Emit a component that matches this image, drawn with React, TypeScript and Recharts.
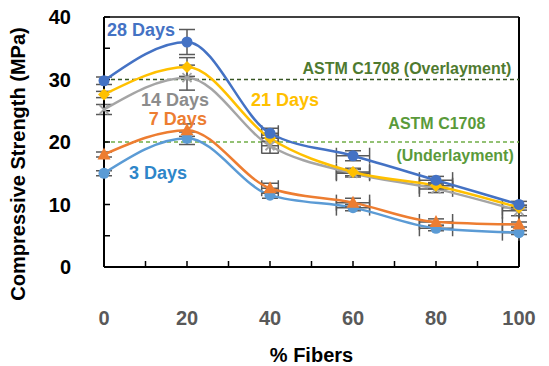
import React from 'react';
import { ComposedChart, Line, Scatter, XAxis, YAxis, ErrorBar, ReferenceLine, ReferenceDot, Label } from 'recharts';

const fibers = [0, 20, 40, 60, 80, 100];

const days28 = [29.8, 36.0, 21.4, 17.8, 13.9, 10.0];
const days21 = [27.6, 32.0, 20.6, 15.2, 13.0, 9.5];
const days14 = [25.2, 30.3, 19.4, 15.0, 12.5, 9.0];
const days7 = [18.0, 21.9, 12.6, 10.3, 7.2, 6.8];
const days3 = [15.0, 20.6, 11.5, 9.5, 6.2, 5.5];

const err28 = [0.6, 2.0, 0.8, 0.8, 0.6, 0.5];
const err21 = [0.5, 1.5, 0.5, 0.6, 0.5, 0.4];
const err14 = [0.8, 2.0, 1.2, 0.6, 0.6, 0.8];
const err7 = [0.4, 1.0, 0.8, 0.7, 0.5, 0.4];
const err3 = [0.4, 1.0, 0.5, 0.5, 0.4, 0.3];

// horizontal errors; the bars at 100 are cut by the plot border in the original
const errX28 = [null, null, 2, 4, 4, null];
const errX21 = [null, null, null, 4, 4, [4, 0]];
const errX14 = [null, null, 2, 4, 4, [4, 0]];
const errX7 = [null, null, 2, 4, 4, [4, 0]];
const errX3 = [null, null, null, 4, 4, [4, 0]];

const xTicks = [0, 10, 20, 30, 40, 50, 60, 70, 80, 90, 100];
const yTicks = [0, 5, 10, 15, 20, 25, 30, 35, 40];

const data = fibers.map((f, i) => ({
  fiber: f,
  d28: days28[i], e28: err28[i], x28: errX28[i],
  d21: days21[i], e21: err21[i], x21: errX21[i],
  d14: days14[i], e14: err14[i], x14: errX14[i],
  d7: days7[i], e7: err7[i], x7: errX7[i],
  d3: days3[i], e3: err3[i], x3: errX3[i],
}));

const FONT = '"Liberation Sans", Arial, sans-serif';
const ERR = '#595959';

const circleDot = (color: string, r: number) => (p: any) => (
  <circle key={p.index} cx={p.cx} cy={p.cy} r={r} fill={color} stroke="none" />
);
const diamondDot = (color: string) => (p: any) => (
  <path key={p.index} d={`M${p.cx},${p.cy - 6}L${p.cx + 6},${p.cy}L${p.cx},${p.cy + 6}L${p.cx - 6},${p.cy}Z`} fill={color} />
);
const crossDot = (color: string) => (p: any) => (
  <path key={p.index} d={`M${p.cx - 4.5},${p.cy - 4.5}L${p.cx + 4.5},${p.cy + 4.5}M${p.cx + 4.5},${p.cy - 4.5}L${p.cx - 4.5},${p.cy + 4.5}`} stroke={color} strokeWidth={1.8} />
);
const triangleDot = (color: string) => (p: any) => (
  <path key={p.index} d={`M${p.cx},${p.cy - 7}L${p.cx + 6.5},${p.cy + 5}L${p.cx - 6.5},${p.cy + 5}Z`} fill={color} />
);
const noShape = () => <g />;

const textLabel = (text: string, color: string, size = 16) => (props: any) => {
  const { viewBox } = props;
  return (
    <text x={viewBox.x} y={viewBox.y} textAnchor="middle" dominantBaseline="central" fill={color} fontFamily={FONT} fontWeight="bold" fontSize={size}>
      {text}
    </text>
  );
};

const series = [
  { key: 'd3', e: 'e3', x: 'x3', color: '#5B9BD5', dot: circleDot('#5B9BD5', 5.5) },
  { key: 'd7', e: 'e7', x: 'x7', color: '#ED7D31', dot: triangleDot('#ED7D31') },
  { key: 'd14', e: 'e14', x: 'x14', color: '#A5A5A5', dot: crossDot('#A5A5A5') },
  { key: 'd21', e: 'e21', x: 'x21', color: '#FFC000', dot: diamondDot('#FFC000') },
  { key: 'd28', e: 'e28', x: 'x28', color: '#4472C4', dot: circleDot('#4472C4', 5.5) },
];

export default function App() {
  return (
    <div style={{ position: 'absolute', left: 0, top: 0, background: '#fff' }}>
      <ComposedChart width={549} height={366} data={data} margin={{ top: 17, right: 30, left: 8, bottom: 0 }}>
        <XAxis
          dataKey="fiber"
          type="number"
          domain={[0, 100]}
          ticks={xTicks}
          tickFormatter={(v: number) => (v % 20 === 0 ? String(v) : '')}
          height={99}
          tickSize={-6}
          tickMargin={50}
          axisLine={{ stroke: '#000', strokeWidth: 2 }}
          tickLine={{ stroke: '#000', strokeWidth: 1.5 }}
          tick={{ fill: '#595959', fontSize: 20, fontWeight: 'bold', fontFamily: FONT }}
        >
          <Label value="% Fibers" position="insideBottom" offset={4} fill="#000" fontSize={20} fontWeight="bold" fontFamily={FONT} />
        </XAxis>
        <XAxis xAxisId="err" dataKey="fiber" type="number" domain={[0, 100]} allowDataOverflow hide />
        <YAxis
          type="number"
          domain={[0, 40]}
          ticks={yTicks}
          tickFormatter={(v: number) => (v % 10 === 0 ? String(v) : '')}
          width={96}
          tickSize={-6}
          tickMargin={39}
          axisLine={{ stroke: '#000', strokeWidth: 2 }}
          tickLine={{ stroke: '#000', strokeWidth: 1.5 }}
          tick={{ fill: '#000', fontSize: 20, fontWeight: 'bold', fontFamily: FONT }}
        >
          <Label
            content={(props: any) => {
              const vb = props.viewBox;
              const cx = vb.x + 10;
              const cy = vb.y + vb.height / 2 + 22;
              return (
                <text x={cx} y={cy} transform={`rotate(-90 ${cx} ${cy})`} textAnchor="middle" dominantBaseline="central" fill="#000" fontFamily={FONT} fontWeight="bold" fontSize={20}>
                  Compressive Strength (MPa)
                </text>
              );
            }}
          />
        </YAxis>

        <ReferenceLine y={40} stroke="#000" strokeWidth={1.5} />
        <ReferenceLine x={100} stroke="#000" strokeWidth={2} />
        <ReferenceLine y={30} stroke="#375623" strokeDasharray="4 3" strokeWidth={1.3} />
        <ReferenceLine y={20} stroke="#70AD47" strokeDasharray="4 3" strokeWidth={1.3} />

        {series.map((s) => (
          <Scatter key={'s' + s.key} xAxisId="err" dataKey={s.key} shape={noShape} isAnimationActive={false}>
            <ErrorBar dataKey={s.x} direction="x" stroke={ERR} width={8} strokeWidth={1.5} />
          </Scatter>
        ))}
        {series.map((s) => (
          <Line key={s.key} type="monotone" dataKey={s.key} stroke={s.color} strokeWidth={2.5} dot={s.dot} isAnimationActive={false}>
            <ErrorBar dataKey={s.e} direction="y" stroke={ERR} width={8} strokeWidth={1.5} />
          </Line>
        ))}

        <ReferenceDot x={8.9} y={37.9} r={0} stroke="none" label={textLabel('28 Days', '#4472C4', 18)} />
        <ReferenceDot x={43.6} y={26.7} r={0} stroke="none" label={textLabel('21 Days', '#FFC000', 18)} />
        <ReferenceDot x={17.1} y={26.7} r={0} stroke="none" label={textLabel('14 Days', '#8C8C8C', 18)} />
        <ReferenceDot x={17.8} y={23.7} r={0} stroke="none" label={textLabel('7 Days', '#ED7D31', 18)} />
        <ReferenceDot x={13} y={15} r={0} stroke="none" label={textLabel('3 Days', '#2E86C9', 18)} />
        <ReferenceDot x={73} y={31.8} r={0} stroke="none" label={textLabel('ASTM C1708 (Overlayment)', '#4F7A2F', 16)} />
        <ReferenceDot x={80.2} y={23} r={0} stroke="none" label={textLabel('ASTM C1708', '#5A9A3A', 16)} />
        <ReferenceDot x={84.6} y={17.9} r={0} stroke="none" label={textLabel('(Underlayment)', '#5A9A3A', 16)} />
      </ComposedChart>
    </div>
  );
}
